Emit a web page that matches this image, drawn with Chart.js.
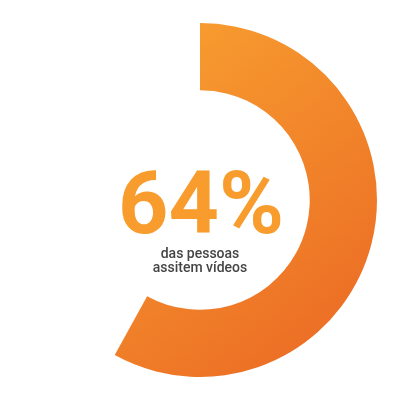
<!DOCTYPE html>
<html>
<head>
<meta charset="utf-8">
<script src="https://cdn.jsdelivr.net/npm/chart.js@4.4.1/dist/chart.umd.min.js"></script>
<style>
  html, body { margin: 0; padding: 0; background: #ffffff; }
  #wrap { width: 400px; height: 400px; position: relative; }
</style>
</head>
<body>
<div id="wrap"><canvas id="c" width="400" height="400"></canvas></div>
<script>
const categories = ["Assistem vídeos", "Restante"];
const values = [58, 42];
const bigLabel = "64%";
const subLines = ["das pessoas", "assitem vídeos"];

const centerText = {
  id: 'centerText',
  afterDraw(chart) {
    const ctx = chart.ctx;
    const meta = chart.getDatasetMeta(0).data[0];
    const cx = meta.x, cy = meta.y;
    ctx.save();
    ctx.textAlign = 'center';
    ctx.textBaseline = 'alphabetic';
    ctx.fillStyle = '#F89C2D';
    ctx.font = 'bold 88px Roboto';
    ctx.fillText(bigLabel, cx + 1, cy + 33);
    ctx.fillStyle = '#454545';
    ctx.font = '500 14px Roboto';
    ctx.fillText(subLines[0], cx, cy + 58);
    ctx.fillText(subLines[1], cx, cy + 72);
    ctx.restore();
  }
};

new Chart(document.getElementById('c'), {
  type: 'doughnut',
  data: {
    labels: categories,
    datasets: [{
      data: values,
      backgroundColor: (context) => {
        const chart = context.chart;
        const area = chart.chartArea;
        if (!area) return '#F28A2A';
        if (context.dataIndex === 1) return 'rgba(0,0,0,0)';
        const g = chart.ctx.createLinearGradient(area.left + 80, area.top, area.right, area.bottom);
        g.addColorStop(0, '#F9A331');
        g.addColorStop(1, '#EA6623');
        return g;
      },
      borderWidth: 0,
      hoverOffset: 0
    }]
  },
  options: {
    responsive: false,
    animation: false,
    cutout: '62%',
    rotation: 0,
    layout: { padding: 23 },
    plugins: {
      legend: { display: false },
      tooltip: { enabled: false }
    },
    events: []
  },
  plugins: [centerText]
});
</script>
</body>
</html>
